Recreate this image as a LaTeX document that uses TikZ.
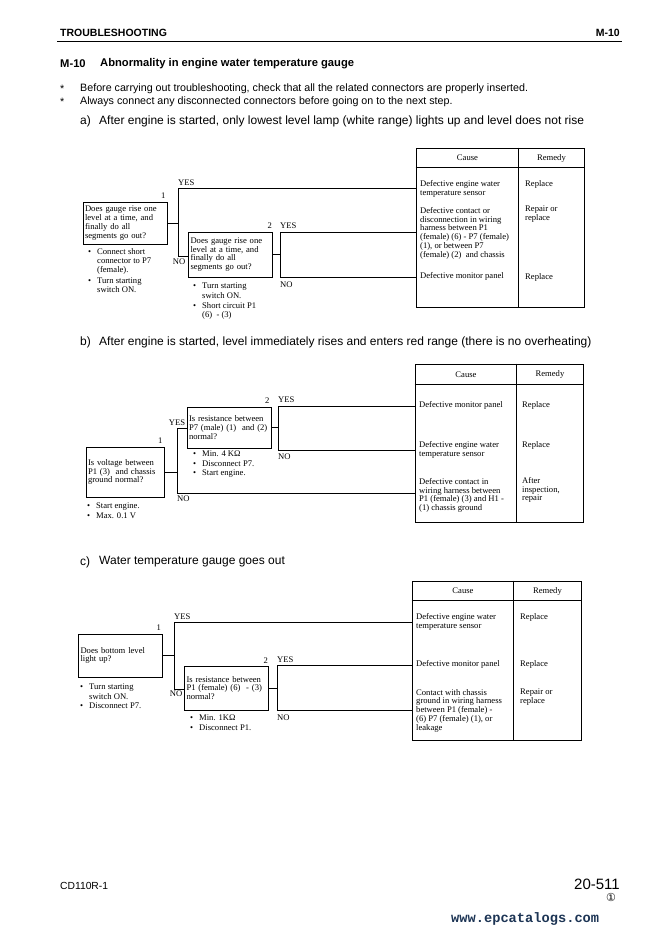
\documentclass[tikz,border=0pt]{standalone}
\usepackage{fontspec}
\setmainfont{Liberation Serif}
\setsansfont{Liberation Sans}
\newfontfamily\wmfont{Liberation Mono}
\newfontfamily\circfont{DejaVu Sans}
\usetikzlibrary{positioning}
\definecolor{wmblue}{RGB}{28,52,84}
\newcommand{\tx}{\fontsize{8.6}{8.8}\selectfont}
\newcommand{\ntx}{\fontsize{8.6}{9.3}\selectfont}
\newcommand{\bl}{\makebox[9pt][l]{\textbullet}}
\newcommand{\ind}{\hspace*{9pt}}

\begin{document}
\begin{tikzpicture}[x=1pt, y=-1pt,
  qbox/.style={rectangle, draw, line width=1pt, align=left,
               text width=80pt, inner sep=2pt, font=\tx},
  cell/.style={anchor=north west, align=left, inner sep=0pt, font=\tx},
  note/.style={anchor=north west, align=left, inner sep=0pt, font=\ntx},
  lbl/.style={inner sep=0pt, font=\tx},
  head/.style={anchor=west, inner sep=0pt, font=\sffamily\fontsize{10.7}{12}\selectfont},
  sect/.style={anchor=west, inner sep=0pt, font=\sffamily\fontsize{12}{13}\selectfont},
  wire/.style={line width=0.8pt},
  tbl/.style={rectangle, draw, line width=0.8pt, inner sep=0pt}
]
\useasboundingbox (0,0) rectangle (662,936);

% page header
\node[head, font=\sffamily\bfseries\fontsize{10.5}{12}\selectfont] (hd) at (60,33) {TROUBLESHOOTING};
\node[head, anchor=east, font=\sffamily\bfseries\fontsize{10.5}{12}\selectfont] (hdno) at (620,33) {M-10};
\draw[line width=1pt] (57,42) -- (622,42);

\node[head, font=\sffamily\bfseries\fontsize{11.2}{13}\selectfont] (ttlno) at (60,64) {M-10};
\node[head, font=\sffamily\bfseries\fontsize{11.2}{13}\selectfont] (ttl) at (100,64) {Abnormality in engine water temperature gauge};

\node[head] (st1) at (60,89) {*};
\node[head] (nt1) at (80,89) {Before carrying out troubleshooting, check that all the related connectors are properly inserted.};
\node[head] (st2) at (60,102) {*};
\node[head] (nt2) at (80,102) {Always connect any disconnected connectors before going on to the next step.};

% a) ------------------------------------------------
\node[sect] (sa) at (80,121) {a)};
\node[sect] (sat) at (99,121) {After engine is started, only lowest level lamp (white range) lights up and level does not rise};

\node[tbl, minimum width=168pt, minimum height=159pt] (ta) at (500,227.5) {};
\draw[wire] ([yshift=-20pt]ta.north west) -- ([yshift=-20pt]ta.north east);
\draw[wire] ([xshift=103pt]ta.north west) -- ([xshift=103pt]ta.south west);
\node[lbl] (tac) at (467.5,158) {Cause};
\node[lbl] (tar) at (551.5,158) {Remedy};

\node[qbox, minimum height=42pt] (a1) at (125,223) {Does gauge rise one\\level at a time, and\\finally do all\\segments go out?};
\node[qbox, minimum height=45pt] (a2) at (230.5,254.5) {Does gauge rise one\\level at a time, and\\finally do all\\segments go out?};

\coordinate (a1y) at (178,188);
\coordinate (a1n) at (178,256);
\coordinate (a2y) at (280,232);
\coordinate (a2n) at (280,277);

\draw[wire] (a1.east) -- (a1.east -| a1y);
\draw[wire] (a1y) -- (a1n);
\draw[wire] (a1y) -- (a1y -| ta.west);
\draw[wire] (a1n) -- (a1n -| a2.west);
\draw[wire] (a2.east) -- (a2.east -| a2y);
\draw[wire] (a2y) -- (a2n);
\draw[wire] (a2y) -- (a2y -| ta.west);
\draw[wire] (a2n) -- (a2n -| ta.west);

\node[lbl, anchor=south east] (a1num) at ([xshift=-2pt,yshift=3pt]a1.north east) {1};
\node[lbl, anchor=south west] (a1yes) at ([yshift=2pt]a1y) {YES};
\node[lbl, anchor=north] (a1no) at ([xshift=1pt,yshift=-3pt]a1n) {NO};
\node[lbl, anchor=south east] (a2num) at ([xshift=-1pt,yshift=3pt]a2.north east) {2};
\node[lbl, anchor=south west] (a2yes) at ([yshift=3pt]a2y) {YES};
\node[lbl, anchor=north west] (a2no) at ([yshift=-5pt]a2n) {NO};

\node[note] (a1nt) at (88,248) {\bl Connect short\\\ind connector to P7\\\ind (female).\\[1pt]\bl Turn starting\\\ind switch ON.};
\node[note] (a2nt) at (193,283) {\bl Turn starting\\\ind switch ON.\\[1pt]\bl Short circuit P1\\\ind (6)\ \ - (3)};

\node[cell] (ca1) at (420,180) {Defective engine water\\temperature sensor};
\node[cell] (ca2) at (420,207) {Defective contact or\\disconnection in wiring\\harness between P1\\(female) (6) - P7 (female)\\(1), or between P7\\(female) (2)\ \ and chassis};
\node[cell] (ca3) at (420,272) {Defective monitor panel};
\node[cell] (ra1) at (525,180) {Replace};
\node[cell] (ra2) at (525,206) {Repair or\\replace};
\node[cell] (ra3) at (525,273) {Replace};

% b) ------------------------------------------------
\node[sect] (sb) at (80,342) {b)};
\node[sect] (sbt) at (99,342) {After engine is started, level immediately rises and enters red range (there is no overheating)};

\node[tbl, minimum width=168pt, minimum height=158pt] (tb) at (499,443) {};
\draw[wire] ([yshift=-21pt]tb.north west) -- ([yshift=-21pt]tb.north east);
\draw[wire] ([xshift=102pt]tb.north west) -- ([xshift=102pt]tb.south west);
\node[lbl] (tbc) at (466,374.5) {Cause};
\node[lbl] (tbr) at (550,374.5) {Remedy};

\node[qbox, text width=74pt, minimum height=50pt] (b1) at (125,472) {Is voltage between\\P1 (3)\ \ and chassis\\ground normal?};
\node[qbox, minimum height=41pt] (b2) at (229,427.5) {Is resistance between\\P7 (male) (1)\ \ and (2)\\normal?};

\coordinate (b1y) at (177,428);
\coordinate (b1n) at (177,493);
\coordinate (b2y) at (278,406);
\coordinate (b2n) at (278,450);

\draw[wire] (b1.east) -- (b1.east -| b1y);
\draw[wire] (b1y) -- (b1n);
\draw[wire] (b1y) -- (b1y -| b2.west);
\draw[wire] (b1n) -- (b1n -| tb.west);
\draw[wire] (b2.east) -- (b2.east -| b2y);
\draw[wire] (b2y) -- (b2n);
\draw[wire] (b2y) -- (b2y -| tb.west);
\draw[wire] (b2n) -- (b2n -| tb.west);

\node[lbl, anchor=south east] (b1num) at ([xshift=-2pt,yshift=3pt]b1.north east) {1};
\node[lbl, anchor=south] (b1yes) at ([yshift=2pt]b1y) {YES};
\node[lbl, anchor=north west] (b1no) at ([yshift=-3pt]b1n) {NO};
\node[lbl, anchor=south east] (b2num) at ([xshift=-2pt,yshift=3pt]b2.north east) {2};
\node[lbl, anchor=south west] (b2yes) at ([yshift=3pt]b2y) {YES};
\node[lbl, anchor=north west] (b2no) at ([yshift=-4pt]b2n) {NO};

\node[note] (b1nt) at (87,503) {\bl Start engine.\\\bl Max. 0.1 V};
\node[note] (b2nt) at (193,451) {\bl Min. 4 KΩ\\\bl Disconnect P7.\\\bl Start engine.};

\node[cell] (cb1) at (419,401) {Defective monitor panel};
\node[cell] (cb2) at (419,441) {Defective engine water\\temperature sensor};
\node[cell] (cb3) at (419,478) {Defective contact in\\wiring harness between\\P1 (female) (3) and H1 -\\(1) chassis ground};
\node[cell] (rb1) at (522,401) {Replace};
\node[cell] (rb2) at (522,441) {Replace};
\node[cell] (rb3) at (522,477) {After\\inspection,\\repair};

% c) ------------------------------------------------
\node[sect] (sc) at (80,562) {c)};
\node[sect] (sct) at (99,562) {Water temperature gauge goes out};

\node[tbl, minimum width=169pt, minimum height=159pt] (tc) at (496.5,660.5) {};
\draw[wire] ([yshift=-20pt]tc.north west) -- ([yshift=-20pt]tc.north east);
\draw[wire] ([xshift=102pt]tc.north west) -- ([xshift=102pt]tc.south west);
\node[lbl] (tcc) at (463,591) {Cause};
\node[lbl] (tcr) at (547.5,591) {Remedy};

\node[qbox, minimum height=43pt] (c1) at (120.5,655.5) {Does bottom level\\light up?};
\node[qbox, minimum height=44pt] (c2) at (226.5,688) {Is resistance between\\P1 (female) (6)\ \ - (3)\\normal?};

\coordinate (c1y) at (174,622);
\coordinate (c1n) at (174,689);
\coordinate (c2y) at (277,665);
\coordinate (c2n) at (277,710);

\draw[wire] (c1.east) -- (c1.east -| c1y);
\draw[wire] (c1y) -- (c1n);
\draw[wire] (c1y) -- (c1y -| tc.west);
\draw[wire] (c1n) -- (c1n -| c2.west);
\draw[wire] (c2.east) -- (c2.east -| c2y);
\draw[wire] (c2y) -- (c2n);
\draw[wire] (c2y) -- (c2y -| tc.west);
\draw[wire] (c2n) -- (c2n -| tc.west);

\node[lbl, anchor=south east] (c1num) at ([xshift=-2pt,yshift=3pt]c1.north east) {1};
\node[lbl, anchor=south west] (c1yes) at ([yshift=2pt]c1y) {YES};
\node[lbl, anchor=north] (c1no) at ([xshift=2pt,yshift=-2pt]c1n) {NO};
\node[lbl, anchor=south east] (c2num) at ([xshift=-1pt,yshift=2pt]c2.north east) {2};
\node[lbl, anchor=south west] (c2yes) at ([yshift=2pt]c2y) {YES};
\node[lbl, anchor=north west] (c2no) at ([yshift=-5pt]c2n) {NO};

\node[note] (c1nt) at (80,684) {\bl Turn starting\\\ind switch ON.\\\bl Disconnect P7.};
\node[note] (c2nt) at (190,715) {\bl Min. 1KΩ\\\bl Disconnect P1.};

\node[cell] (cc1) at (416,613) {Defective engine water\\temperature sensor};
\node[cell] (cc2) at (416,660) {Defective monitor panel};
\node[cell] (cc3) at (416,689) {Contact with chassis\\ground in wiring harness\\between P1 (female) -\\(6) P7 (female) (1), or\\leakage};
\node[cell] (rc1) at (520,613) {Replace};
\node[cell] (rc2) at (520,660) {Replace};
\node[cell] (rc3) at (520,689) {Repair or\\replace};

% footer
\node[head, font=\sffamily\fontsize{10.3}{12}\selectfont] (mdl) at (60,886) {CD110R-1};
\node[head, anchor=east, font=\sffamily\fontsize{15}{17}\selectfont] (pg) at (620,884) {20-511};
\node[inner sep=0pt, font=\circfont\fontsize{11}{12}\selectfont] (rev) at (611,897) {①};
\node[head, font=\wmfont\bfseries\fontsize{13.7}{16}\selectfont, text=wmblue] (wm) at (451,919) {www.epcatalogs.com};
\end{tikzpicture}
\end{document}
